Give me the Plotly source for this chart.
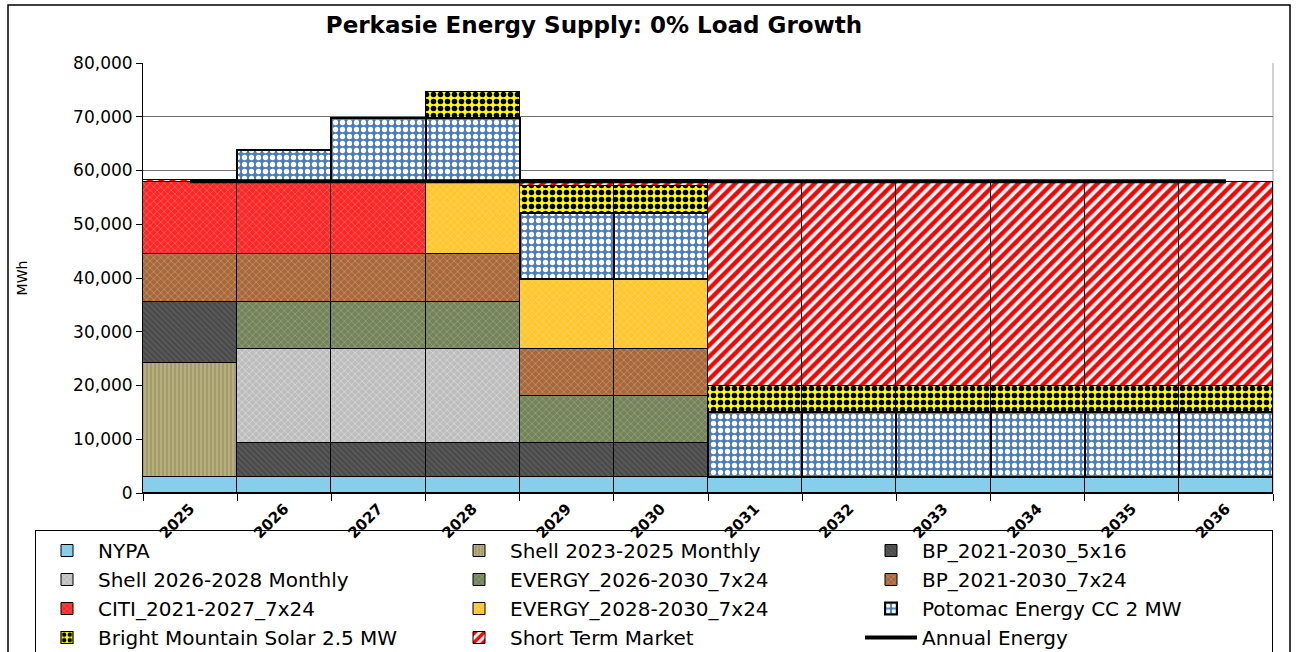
import plotly.graph_objects as go

years = ["2025", "2026", "2027", "2028", "2029", "2030",
         "2031", "2032", "2033", "2034", "2035", "2036"]

nypa = [2900, 2900, 2900, 2900, 2900, 2900, 3000, 3000, 3000, 3000, 3000, 3000]
shell_2023 = [21250, None, None, None, None, None, None, None, None, None, None, None]
bp_5x16 = [11450, 6350, 6350, 6350, 6350, 6350, None, None, None, None, None, None]
shell_2026 = [None, 17600, 17600, 17600, None, None, None, None, None, None, None, None]
evergy_2026 = [None, 8750, 8750, 8750, 8800, 8800, None, None, None, None, None, None]
bp_7x24 = [8800, 8800, 8800, 8800, 8700, 8700, None, None, None, None, None, None]
citi = [13400, 13500, 13500, None, None, None, None, None, None, None, None, None]
evergy_2028 = [None, None, None, 13500, 13100, 13100, None, None, None, None, None, None]
potomac = [None, 6000, 11900, 11900, 12200, 12200, 12100, 12100, 12100, 12100, 12100, 12100]
bright_mtn = [None, None, None, 4850, 5000, 5000, 4850, 4850, 4850, 4850, 4850, 4850]
short_term = [400, None, None, None, 1100, 1100, 37950, 37950, 37950, 37950, 37950, 37950]
annual_energy = [58000] * 12

FONT = "DejaVu Sans"

series = [
    ("NYPA", nypa, dict(color="#87CEEB"), 1),
    ("Shell 2023-2025 Monthly", shell_2023,
     dict(color="#aaa372", pattern=dict(shape="|", fgcolor="#d6d2ac", bgcolor="#a39c68", size=4, solidity=0.35)), 1),
    ("BP_2021-2030_5x16", bp_5x16,
     dict(color="#4d4d4d", pattern=dict(shape="\\", fgcolor="#343434", bgcolor="#585858", size=4, solidity=0.4)), 1),
    ("Shell 2026-2028 Monthly", shell_2026,
     dict(color="#cccccc", pattern=dict(shape="x", fgcolor="#f2f2f2", bgcolor="#bdbdbd", size=5, solidity=0.3)), 1),
    ("EVERGY_2026-2030_7x24", evergy_2026,
     dict(color="#7f8c62", pattern=dict(shape="x", fgcolor="#b4bf9c", bgcolor="#74835a", size=5, solidity=0.3)), 1),
    ("BP_2021-2030_7x24", bp_7x24,
     dict(color="#b4794a", pattern=dict(shape="x", fgcolor="#dcbb9a", bgcolor="#a8683a", size=5, solidity=0.3)), 1),
    ("CITI_2021-2027_7x24", citi,
     dict(color="#ff2a2a", pattern=dict(shape="x", fgcolor="#ffb3b3", bgcolor="#ff2626", size=5, solidity=0.25)), 1),
    ("EVERGY_2028-2030_7x24", evergy_2028,
     dict(color="#ffcc33", pattern=dict(shape="x", fgcolor="#ffe596", bgcolor="#ffc62e", size=5, solidity=0.3)), 1),
    ("Potomac Energy CC 2 MW", potomac,
     dict(color="#4a7cc0", pattern=dict(shape=".", fgcolor="#ffffff", bgcolor="#4a7cc0", size=7,
                                        solidity=0.45, fgopacity=1)), 2),
    ("Bright Mountain Solar 2.5 MW", bright_mtn,
     dict(color="#ffff00", pattern=dict(shape=".", fgcolor="#000000", bgcolor="#ffff00", size=7,
                                        solidity=0.5, fgopacity=1)), 1.2),
    ("Short Term Market", short_term,
     dict(color="#ff0000", pattern=dict(shape="/", fgcolor="#ff0000", bgcolor="#ffffff", size=8,
                                        solidity=0.55, fgopacity=1)), 1),
]

fig = go.Figure()
for name, vals, marker, lw in series:
    m = dict(marker)
    m["line"] = dict(color="#000000", width=lw)
    fig.add_trace(go.Bar(name=name, x=years, y=vals, marker=m))

fig.add_trace(go.Scatter(name="Annual Energy", x=years, y=annual_energy, mode="lines",
                         line=dict(color="#000000", width=4)))

L, R, T, B = 143, 23, 63, 159
W, H = 1296, 652
pw, ph = W - L - R, H - T - B


def px_x(p):
    return (p - L) / pw


def px_y(p):
    return (H - B - p) / ph


fig.update_layout(
    width=W, height=H,
    margin=dict(l=L, r=R, t=T, b=B, autoexpand=False),
    barmode="stack", bargap=0,
    plot_bgcolor="#ffffff", paper_bgcolor="#ffffff",
    font=dict(family=FONT, color="#000000"),
    title=dict(text="Perkasie Energy Supply: 0% Load Growth",
               font=dict(family=FONT, size=23, weight="bold", color="#000000"),
               x=594 / W, xref="container", xanchor="center",
               y=1 - 25 / H, yref="container", yanchor="middle"),
    legend=dict(orientation="h", x=px_x(35), y=px_y(530), xanchor="left", yanchor="top",
                entrywidth=345, entrywidthmode="pixels",
                bordercolor="#000000", borderwidth=1, bgcolor="rgba(0,0,0,0)",
                font=dict(family=FONT, size=20, color="#000000"),
                itemwidth=52, tracegroupgap=0, traceorder="normal"),
    xaxis=dict(type="category", showline=True, linecolor="#000000", linewidth=1,
               ticks="outside", tickson="boundaries", ticklen=7, tickcolor="#000000",
               tickangle=-45, tickfont=dict(family=FONT, size=15, weight="bold"),
               ticklabelstandoff=0,
               showgrid=False, automargin=False),
    yaxis=dict(range=[0, 80000], dtick=10000, tickformat=",d",
               showline=True, linecolor="#000000", linewidth=1,
               ticks="outside", ticklen=6, tickcolor="#000000",
               tickfont=dict(family=FONT, size=17),
               showgrid=True, gridcolor="#707070", gridwidth=1,
               title=dict(text="MWh", font=dict(family=FONT, size=14), standoff=42),
               automargin=False, zeroline=False),
    shapes=[
        dict(type="rect", xref="paper", yref="paper",
             x0=px_x(8), x1=px_x(1290), y0=px_y(680), y1=px_y(5),
             line=dict(color="#000000", width=1.5), fillcolor="rgba(0,0,0,0)", layer="below"),
        dict(type="line", xref="paper", yref="paper", x0=1, x1=1, y0=0, y1=1,
             line=dict(color="#a0a0a0", width=1), layer="below"),
    ],
)

fig.write_html("out.html", config={"displayModeBar": False},
               post_script="document.body.style.margin='0';document.body.style.padding='0';")
